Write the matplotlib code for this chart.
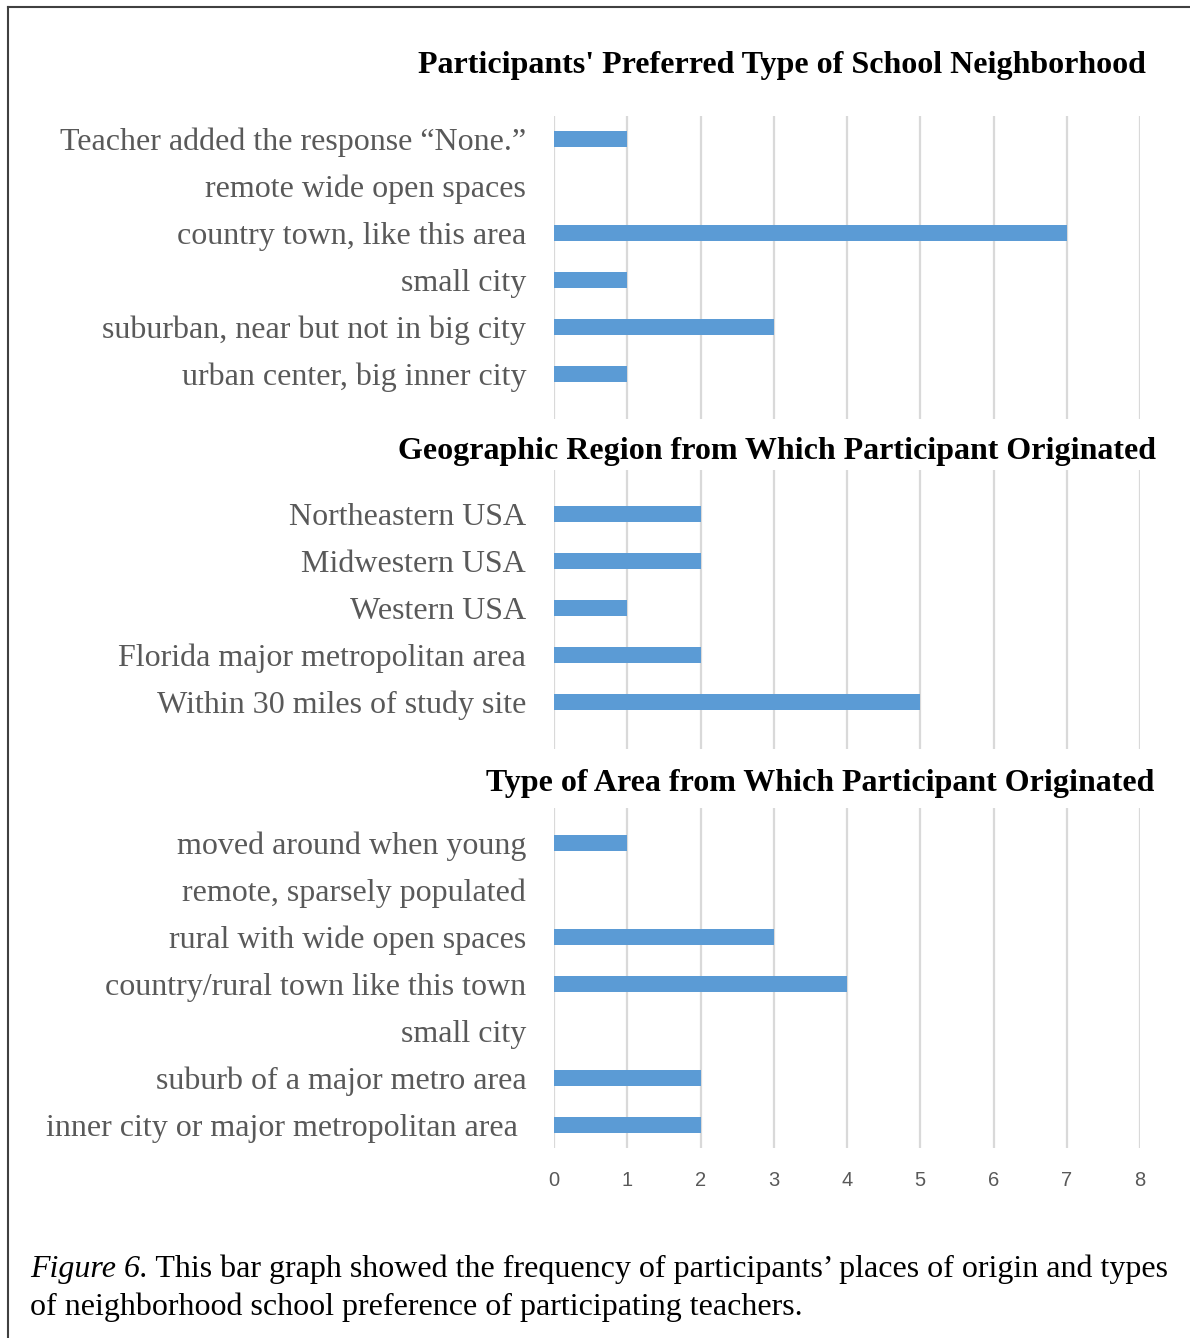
import matplotlib
matplotlib.use("Agg")
import matplotlib.pyplot as plt
from matplotlib.lines import Line2D

# data
pref_labels = ["Teacher added the response \u201cNone.\u201d", "remote wide open spaces",
               "country town, like this area", "small city",
               "suburban, near but not in big city", "urban center, big inner city"]
pref_values = [1, 0, 7, 1, 3, 1]

region_labels = ["Northeastern USA", "Midwestern USA", "Western USA",
                 "Florida major metropolitan area", "Within 30 miles of study site"]
region_values = [2, 2, 1, 2, 5]

area_labels = ["moved around when young", "remote, sparsely populated",
               "rural with wide open spaces", "country/rural town like this town",
               "small city", "suburb of a major metro area",
               "inner city or major metropolitan area "]
area_values = [1, 0, 3, 4, 0, 2, 2]

titles = ["Participants' Preferred Type of School Neighborhood",
          "Geographic Region from Which Participant Originated",
          "Type of Area from Which Participant Originated"]
x_ticks = [0, 1, 2, 3, 4, 5, 6, 7, 8]

W, H = 1190, 1338
fig = plt.figure(figsize=(W / 100, H / 100), dpi=100)

bar_color = "#5b9bd5"
grid_color = "#d9d9d9"
label_color = "#595959"
serif = "Liberation Serif"

# (top px, bottom px, top offset, bottom offset) for each panel
panels = [
    (pref_labels, pref_values, 116, 419, 0.49, 0.96),
    (region_labels, region_values, 470, 749, 0.94, 1.0),
    (area_labels, area_values, 808, 1148, 0.745, 0.49),
]
x0, x1 = 554, 1140

for i, (labels, values, top, bot, toff, boff) in enumerate(panels):
    ax = fig.add_axes([x0 / W, 1 - bot / H, (x1 - x0) / W, (bot - top) / H])
    n = len(labels)
    ax.barh(range(n), values, height=0.34, color=bar_color, zorder=3)
    ax.set_xlim(0, 8)
    ax.set_ylim(n - 1 + boff, -toff)
    ax.set_xticks(x_ticks)
    ax.set_yticks(range(n))
    ax.set_yticklabels(labels, fontsize=23, family=serif, color=label_color)
    ax.tick_params(axis="y", length=0, pad=20)
    ax.tick_params(axis="x", length=0, pad=16.5)
    ax.grid(axis="x", color=grid_color, lw=1.6, zorder=0)
    for s in ax.spines.values():
        s.set_visible(False)
    if i == 2:
        ax.set_xticklabels([str(t) for t in x_ticks], fontsize=14.5,
                           family="Liberation Sans", color=label_color)
    else:
        ax.set_xticklabels([])

title_pos = [(782, 65), (777, 451), (820, 783)]
for t, (tx, ty) in zip(titles, title_pos):
    fig.text(tx / W, 1 - ty / H, t, ha="center", va="center", fontsize=23,
             family=serif, weight="bold", color="black")

# caption
fig.canvas.draw()
r = fig.canvas.get_renderer()
cap1 = fig.text(30 / W, 1 - 1269 / H, "Figure 6.", ha="left", va="center",
                fontsize=23, family=serif, style="italic", color="black")
bb = cap1.get_window_extent(renderer=r)
fig.text(bb.x1 / W, 1 - 1269 / H,
         " This bar graph showed the frequency of participants\u2019 places of origin and types",
         ha="left", va="center", fontsize=23, family=serif, color="black")
fig.text(30 / W, 1 - 1307 / H,
         "of neighborhood school preference of participating teachers.",
         ha="left", va="center", fontsize=23, family=serif, color="black")

# frame lines (top and left)
fig.add_artist(Line2D([8 / W, 1], [1 - 7 / H, 1 - 7 / H], color="#404040", lw=1.5))
fig.add_artist(Line2D([8 / W, 8 / W], [1 - 7 / H, 0], color="#404040", lw=1.5))

fig.savefig("out.png", dpi=100)
